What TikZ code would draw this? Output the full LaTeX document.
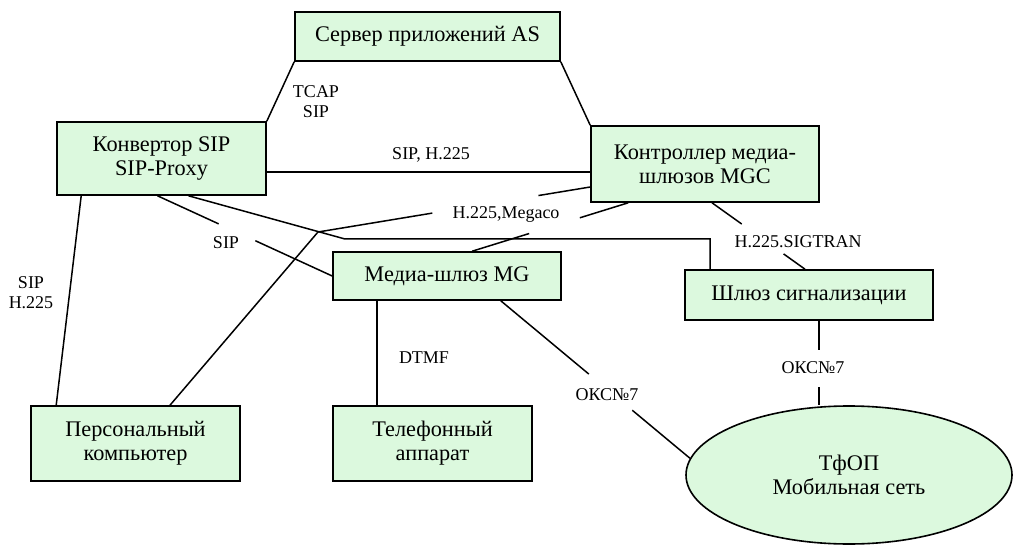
\documentclass[tikz,border=0pt]{standalone}
\usepackage{fontspec}
\setmainfont{Liberation Serif}
\usetikzlibrary{calc,shapes.geometric}
\definecolor{boxcol}{RGB}{220,249,222}
\tikzstyle{unit}=[draw, line width=1.6pt, fill=boxcol, align=center,
font=\fontsize{22.3}{24}\selectfont, inner sep=0pt]
\tikzstyle{net}=[unit, ellipse]
\tikzstyle{link}=[line width=1.5pt]
\tikzstyle{proto}=[align=center, font=\fontsize{18}{20}\selectfont, inner sep=0pt]

\begin{document}
\begin{tikzpicture}[x=1pt,y=-1pt]
  \useasboundingbox (0,0) rectangle (1014,545);
  % Units
  \node[unit, minimum width=265pt, minimum height=49pt] (as) at (427.5,36.5) {Сервер приложений AS};
  \node[unit, minimum width=209pt, minimum height=73pt] (conv) at (161.5,158.5) {Конвертор SIP\\SIP-Proxy};
  \node[unit, minimum width=228pt, minimum height=76pt] (mgc) at (705,164) {Контроллер медиа-\\шлюзов MGC};
  \node[unit, minimum width=228pt, minimum height=48pt] (mg) at (447,276) {Медиа-шлюз MG};
  \node[unit, minimum width=248pt, minimum height=50pt] (sgw) at (809,295) {Шлюз сигнализации};
  \node[unit, minimum width=209pt, minimum height=75pt] (pc) at (135.5,443.5) {Персональный\\компьютер};
  \node[unit, minimum width=199pt, minimum height=75pt] (tel) at (432.5,443.5) {Телефонный\\аппарат};
  \node[net, minimum width=326pt, minimum height=138pt] (tfop) at (849,475) {ТфОП\\Мобильная сеть};
  % Links
  \draw[link] (as.south west) -- (conv.north east);
  \draw[link] (as.south east) -- (mgc.north west);
  \draw[link] ([yshift=-13.5pt]conv.east) -- ([yshift=-13.5pt]conv.east -| mgc.west);
  \draw[link] ([xshift=25pt]conv.south west) -- ([xshift=26pt]pc.north west);
  \coordinate (c1) at ([xshift=-4pt]conv.south);
  \draw[link] (c1) -- ($(c1)!0.35!(mg.west)$);
  \draw[link] ($(c1)!0.56!(mg.west)$) -- (mg.west);
  \coordinate (k1) at (345,239);
  \draw[link] ([xshift=27pt]conv.south) -- (k1) -| ([xshift=26pt]sgw.north west);
  \coordinate (m1) at ([yshift=-23pt]mgc.west);
  \coordinate (k2) at (318,232);
  \draw[link] (m1) -- ($(m1)!0.19!(k2)$);
  \draw[link] ($(m1)!0.58!(k2)$) -- (k2) -- ([xshift=34.5pt]pc.north);
  \coordinate (m2) at ([xshift=38pt]mgc.south west);
  \coordinate (g1) at ([xshift=140pt]mg.north west);
  \draw[link] (m2) -- ($(m2)!0.31!(g1)$);
  \draw[link] ($(m2)!0.635!(g1)$) -- (g1);
  \coordinate (m3) at ([xshift=7pt]mgc.south);
  \coordinate (s1) at ([xshift=-4pt]sgw.north);
  \draw[link] (m3) -- ($(m3)!0.32!(s1)$);
  \draw[link] ($(m3)!0.77!(s1)$) -- (s1);
  \draw[link] ([xshift=45pt]mg.south west) -- ([xshift=45pt]mg.south west |- tel.north);
  \coordinate (g2) at ([xshift=-61pt]mg.south east);
  \draw[link] (g2) -- ($(g2)!0.465!(tfop.174)$);
  \draw[link] ($(g2)!0.695!(tfop.174)$) -- (tfop.174);
  \coordinate (s2) at ([xshift=10pt]sgw.south);
  \draw[link] (s2) -- ($(s2)!0.35!(s2 |- tfop.north)$);
  \draw[link] ($(s2)!0.79!(s2 |- tfop.north)$) -- (s2 |- tfop.north);
  % Protocols
  \node[proto] (tcap) at (316,102) {TCAP\\SIP};
  \node[proto] (sh) at (431,155) {SIP, H.225};
  \node[proto] (sh2) at (31,293) {SIP\\H.225};
  \node[proto] (sip) at (226,243) {SIP};
  \node[proto] (meg) at (506,214) {H.225,Megaco};
  \node[proto] (sig) at (798,242) {H.225.SIGTRAN};
  \node[proto] (dtmf) at (424,358) {DTMF};
  \node[proto] (oks1) at (607,395) {ОКС№7};
  \node[proto] (oks2) at (813,368) {ОКС№7};
\end{tikzpicture}
\end{document}
